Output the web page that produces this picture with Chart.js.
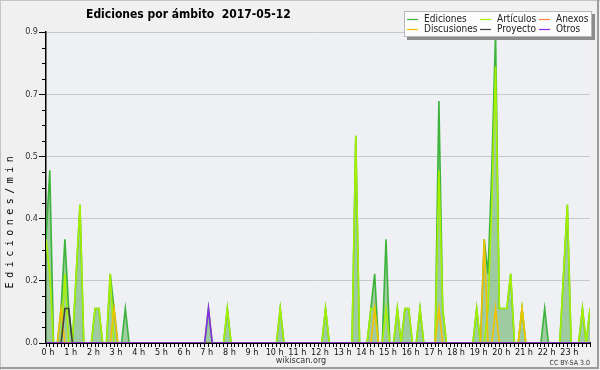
<!DOCTYPE html>
<html>
<head>
<meta charset="utf-8">
<script src="https://cdn.jsdelivr.net/npm/chart.js@4.4.0/dist/chart.umd.min.js"></script>
<style>
  html, body { margin: 0; padding: 0; background: #f0f0f0; }
</style>
</head>
<body>
<canvas id="chart" width="600" height="370"></canvas>
<script>
// edits per minute, one value every 10 minutes (0:00 .. 24:00), 12 values per row = 2 hours
const ediciones = [
    0.3, 0.5, 0, 0, 0.1, 0.3, 0.1, 0, 0.2, 0.4, 0, 0,
    0, 0.1, 0.1, 0, 0, 0.2, 0.1, 0, 0, 0.1, 0, 0,
    0, 0, 0, 0, 0, 0, 0, 0, 0, 0, 0, 0,
    0, 0, 0, 0, 0, 0, 0, 0.1, 0, 0, 0, 0,
    0.1, 0, 0, 0, 0, 0, 0, 0, 0, 0, 0, 0,
    0, 0, 0.1, 0, 0, 0, 0, 0, 0, 0, 0, 0,
    0, 0, 0.1, 0, 0, 0, 0, 0, 0, 0, 0.6, 0,
    0, 0, 0.1, 0.2, 0, 0, 0.3, 0, 0, 0.1, 0, 0.1,
    0.1, 0, 0, 0.1, 0, 0, 0, 0, 0.7, 0.1, 0, 0,
    0, 0, 0, 0, 0, 0, 0.1, 0, 0.3, 0.2, 0.5, 0.9,
    0.1, 0.1, 0.1, 0.2, 0, 0, 0.1, 0, 0, 0, 0, 0,
    0.1, 0, 0, 0, 0, 0.2, 0.4, 0, 0, 0, 0.1, 0,
    0.1
]
const articulos = [
    0.3, 0.2, 0, 0, 0, 0.2, 0, 0, 0.2, 0.4, 0, 0,
    0, 0.1, 0.1, 0, 0, 0.2, 0, 0, 0, 0, 0, 0,
    0, 0, 0, 0, 0, 0, 0, 0, 0, 0, 0, 0,
    0, 0, 0, 0, 0, 0, 0, 0, 0, 0, 0, 0,
    0.1, 0, 0, 0, 0, 0, 0, 0, 0, 0, 0, 0,
    0, 0, 0.1, 0, 0, 0, 0, 0, 0, 0, 0, 0,
    0, 0, 0.1, 0, 0, 0, 0, 0, 0, 0, 0.6, 0,
    0, 0, 0.1, 0.1, 0, 0, 0.1, 0, 0, 0.1, 0, 0.1,
    0.1, 0, 0, 0.1, 0, 0, 0, 0, 0.5, 0.1, 0, 0,
    0, 0, 0, 0, 0, 0, 0.1, 0, 0, 0.1, 0.4, 0.8,
    0.1, 0.1, 0.1, 0.2, 0, 0, 0.1, 0, 0, 0, 0, 0,
    0, 0, 0, 0, 0, 0.2, 0.4, 0, 0, 0, 0.1, 0,
    0.1
]
const anexos = [
    0, 0, 0, 0, 0, 0, 0, 0, 0, 0, 0, 0,
    0, 0, 0, 0, 0, 0, 0, 0, 0, 0, 0, 0,
    0, 0, 0, 0, 0, 0, 0, 0, 0, 0, 0, 0,
    0, 0, 0, 0, 0, 0, 0, 0, 0, 0, 0, 0,
    0, 0, 0, 0, 0, 0, 0, 0, 0, 0, 0, 0,
    0, 0, 0, 0, 0, 0, 0, 0, 0, 0, 0, 0,
    0, 0, 0, 0, 0, 0, 0, 0, 0, 0, 0, 0,
    0, 0, 0, 0, 0, 0, 0, 0, 0, 0, 0, 0,
    0, 0, 0, 0, 0, 0, 0, 0, 0, 0, 0, 0,
    0, 0, 0, 0, 0, 0, 0, 0, 0, 0, 0, 0,
    0, 0, 0, 0, 0, 0, 0, 0, 0, 0, 0, 0,
    0, 0, 0, 0, 0, 0, 0, 0, 0, 0, 0, 0,
    0
]
const discusiones = [
    0, 0, 0, 0, 0.1, 0, 0, 0, 0, 0, 0, 0,
    0, 0, 0, 0, 0, 0, 0.1, 0, 0, 0, 0, 0,
    0, 0, 0, 0, 0, 0, 0, 0, 0, 0, 0, 0,
    0, 0, 0, 0, 0, 0, 0, 0, 0, 0, 0, 0,
    0, 0, 0, 0, 0, 0, 0, 0, 0, 0, 0, 0,
    0, 0, 0, 0, 0, 0, 0, 0, 0, 0, 0, 0,
    0, 0, 0, 0, 0, 0, 0, 0, 0, 0, 0, 0,
    0, 0, 0, 0.1, 0, 0, 0, 0, 0, 0, 0, 0,
    0, 0, 0, 0, 0, 0, 0, 0, 0.1, 0, 0, 0,
    0, 0, 0, 0, 0, 0, 0, 0, 0.3, 0, 0, 0.1,
    0, 0, 0, 0, 0, 0, 0.1, 0, 0, 0, 0, 0,
    0, 0, 0, 0, 0, 0, 0, 0, 0, 0, 0, 0,
    0
]
const proyecto = [
    0, 0, 0, 0, 0, 0.1, 0.1, 0, 0, 0, 0, 0,
    0, 0, 0, 0, 0, 0, 0, 0, 0, 0, 0, 0,
    0, 0, 0, 0, 0, 0, 0, 0, 0, 0, 0, 0,
    0, 0, 0, 0, 0, 0, 0, 0, 0, 0, 0, 0,
    0, 0, 0, 0, 0, 0, 0, 0, 0, 0, 0, 0,
    0, 0, 0, 0, 0, 0, 0, 0, 0, 0, 0, 0,
    0, 0, 0, 0, 0, 0, 0, 0, 0, 0, 0, 0,
    0, 0, 0, 0, 0, 0, 0, 0, 0, 0, 0, 0,
    0, 0, 0, 0, 0, 0, 0, 0, 0, 0, 0, 0,
    0, 0, 0, 0, 0, 0, 0, 0, 0, 0, 0, 0,
    0, 0, 0, 0, 0, 0, 0, 0, 0, 0, 0, 0,
    0, 0, 0, 0, 0, 0, 0, 0, 0, 0, 0, 0,
    0
]
const otros = [
    0, 0, 0, 0, 0, 0, 0, 0, 0, 0, 0, 0,
    0, 0, 0, 0, 0, 0, 0, 0, 0, 0, 0, 0,
    0, 0, 0, 0, 0, 0, 0, 0, 0, 0, 0, 0,
    0, 0, 0, 0, 0, 0, 0, 0.1, 0, 0, 0, 0,
    0, 0, 0, 0, 0, 0, 0, 0, 0, 0, 0, 0,
    0, 0, 0, 0, 0, 0, 0, 0, 0, 0, 0, 0,
    0, 0, 0, 0, 0, 0, 0, 0, 0, 0, 0, 0,
    0, 0, 0, 0, 0, 0, 0, 0, 0, 0, 0, 0,
    0, 0, 0, 0, 0, 0, 0, 0, 0, 0, 0, 0,
    0, 0, 0, 0, 0, 0, 0, 0, 0, 0, 0, 0,
    0, 0, 0, 0, 0, 0, 0, 0, 0, 0, 0, 0,
    0, 0, 0, 0, 0, 0, 0, 0, 0, 0, 0, 0,
    0
]

const seriesNames = ['Ediciones', 'Artículos', 'Anexos', 'Discusiones', 'Proyecto', 'Otros']
const seriesColors = ['#3cb43c', '#a6f000', '#ff8040', '#f5c000', '#404040', '#8a2be2']
const hourLabels = ['0 h', '1 h', '2 h', '3 h', '4 h', '5 h', '6 h', '7 h', '8 h', '9 h', '10 h', '11 h',
    '12 h', '13 h', '14 h', '15 h', '16 h', '17 h', '18 h', '19 h', '20 h', '21 h', '22 h', '23 h']
const yTicks = [0, 0.18, 0.36, 0.54, 0.72, 0.9]

// x positions are 10-minute slots
const bins = ediciones.map((v, i) => i)

const font = "'DejaVu Sans Condensed', 'DejaVu Sans', sans-serif"

// background, title, legend and the small extras of the original image
const decor = {
    id: 'decor',
    beforeDraw(chart) {
        const {ctx, chartArea} = chart
        ctx.save()
        ctx.fillStyle = '#f0f0f0'
        ctx.fillRect(0, 0, chart.width, chart.height)
        ctx.fillStyle = '#eef0f3'
        ctx.fillRect(chartArea.left, chartArea.top, chartArea.right - chartArea.left, chartArea.bottom - chartArea.top)
        ctx.restore()
    },
    afterDraw(chart) {
        const {ctx} = chart
        const y = chart.scales.y
        ctx.save()

        // minor ticks on the y axis
        ctx.strokeStyle = '#000'
        ctx.lineWidth = 1
        for (let k = 0; k < yTicks.length - 1; k++) {
            for (let j = 1; j < 4; j++) {
                const py = Math.round(y.getPixelForValue(yTicks[k] + (yTicks[k + 1] - yTicks[k]) * j / 4)) + 0.5
                ctx.beginPath()
                ctx.moveTo(y.right - 4, py)
                ctx.lineTo(y.right, py)
                ctx.stroke()
            }
        }

        // title
        ctx.fillStyle = '#000'
        ctx.font = "bold 12px " + font
        ctx.textBaseline = 'middle'
        ctx.textAlign = 'left'
        ctx.fillText('Ediciones por ámbito  2017-05-12', 86, 14.5)

        // y axis title
        ctx.save()
        ctx.translate(10, 220)
        ctx.rotate(-Math.PI / 2)
        ctx.font = "10px 'DejaVu Sans Mono', monospace"
        ctx.letterSpacing = '4.5px'
        ctx.textAlign = 'center'
        ctx.fillText('Ediciones/min', 0, 0)
        ctx.restore()

        // footer
        ctx.font = "9px " + font
        ctx.fillStyle = '#333'
        ctx.textAlign = 'center'
        ctx.fillText('wikiscan.org', 301, 361)
        ctx.font = "7px " + font
        ctx.textAlign = 'right'
        ctx.fillText('CC BY-SA 3.0', 590, 363)

        // legend box with shadow
        ctx.fillStyle = '#8c8c8c'
        ctx.fillRect(407, 14, 188, 26)
        ctx.fillStyle = '#fcfcfc'
        ctx.fillRect(404, 11, 188, 26)
        ctx.strokeStyle = '#b8b8b8'
        ctx.strokeRect(404.5, 11.5, 187, 25)
        const colX = [407, 480, 539]
        const rowY = [19.5, 29.5]
        ctx.font = "10px " + font
        ctx.textAlign = 'left'
        chart.data.datasets.forEach((ds, i) => {
            const cx = colX[i % 3]
            const cy = rowY[Math.floor(i / 3)]
            ctx.strokeStyle = ds.borderColor
            ctx.lineWidth = 1.2
            ctx.beginPath()
            ctx.moveTo(cx, cy)
            ctx.lineTo(cx + 11, cy)
            ctx.stroke()
            ctx.fillStyle = '#222'
            ctx.fillText(ds.label, cx + 17, cy)
        })

        // image frame
        ctx.fillStyle = '#c4c4c4'
        ctx.fillRect(0, 0, 1, 370)
        ctx.fillRect(0, 0, 600, 1)
        ctx.fillStyle = '#9c9c9c'
        ctx.fillRect(597, 0, 2, 369)
        ctx.fillRect(0, 367, 599, 2)
        ctx.restore()
    }
}

const seriesData = [ediciones, articulos, anexos, discusiones, proyecto, otros]
let data_set = []
seriesData.forEach((values, i) => {
    data_set.push({
        label: seriesNames[i],
        data: values,
        borderColor: seriesColors[i],
        borderWidth: 1.6,
        pointRadius: 0,
        tension: 0,
        fill: i === 0 ? 'origin' : false,
        backgroundColor: i === 0 ? 'rgba(60, 160, 60, 0.45)' : seriesColors[i],
        // first series at the bottom, later ones drawn over it
        order: seriesData.length - i
    })
})

const myChart = new Chart(document.getElementById('chart'), {
    type: 'line',
    data: {
        labels: bins,
        datasets: data_set
    },
    options: {
        responsive: false,
        animation: false,
        layout: {
            padding: {left: 0, top: 32, right: 10, bottom: 0}
        },
        scales: {
            x: {
                type: 'linear',
                min: 0,
                max: 144,
                z: 1,
                afterBuildTicks: (s) => { s.ticks = bins.map(v => ({value: v})) },
                afterFit: (s) => { s.height = 27 },
                grid: {drawOnChartArea: false, drawTicks: true, tickLength: 4, tickColor: '#000', tickWidth: 1},
                border: {color: '#000', width: 2},
                ticks: {
                    autoSkip: false,
                    maxRotation: 0,
                    padding: 0,
                    labelOffset: 2,
                    color: '#111',
                    font: {family: font, size: 9},
                    callback: (v) => v % 6 === 0 ? (hourLabels[v / 6] || '') : ''
                }
            },
            y: {
                min: 0,
                max: 0.9,
                afterBuildTicks: (s) => { s.ticks = yTicks.map(v => ({value: v})) },
                afterFit: (s) => { s.width = 46 },
                grid: {color: '#c8c8c8', lineWidth: 1, tickColor: '#000', tickLength: 7},
                border: {color: '#000', width: 1.5},
                ticks: {
                    padding: 1,
                    color: '#333',
                    font: {family: font, size: 9},
                    callback: (v) => v.toFixed(1)
                }
            }
        },
        plugins: {
            legend: {display: false},
            title: {display: false},
            tooltip: {enabled: false}
        }
    },
    plugins: [decor]
})
</script>
</body>
</html>
